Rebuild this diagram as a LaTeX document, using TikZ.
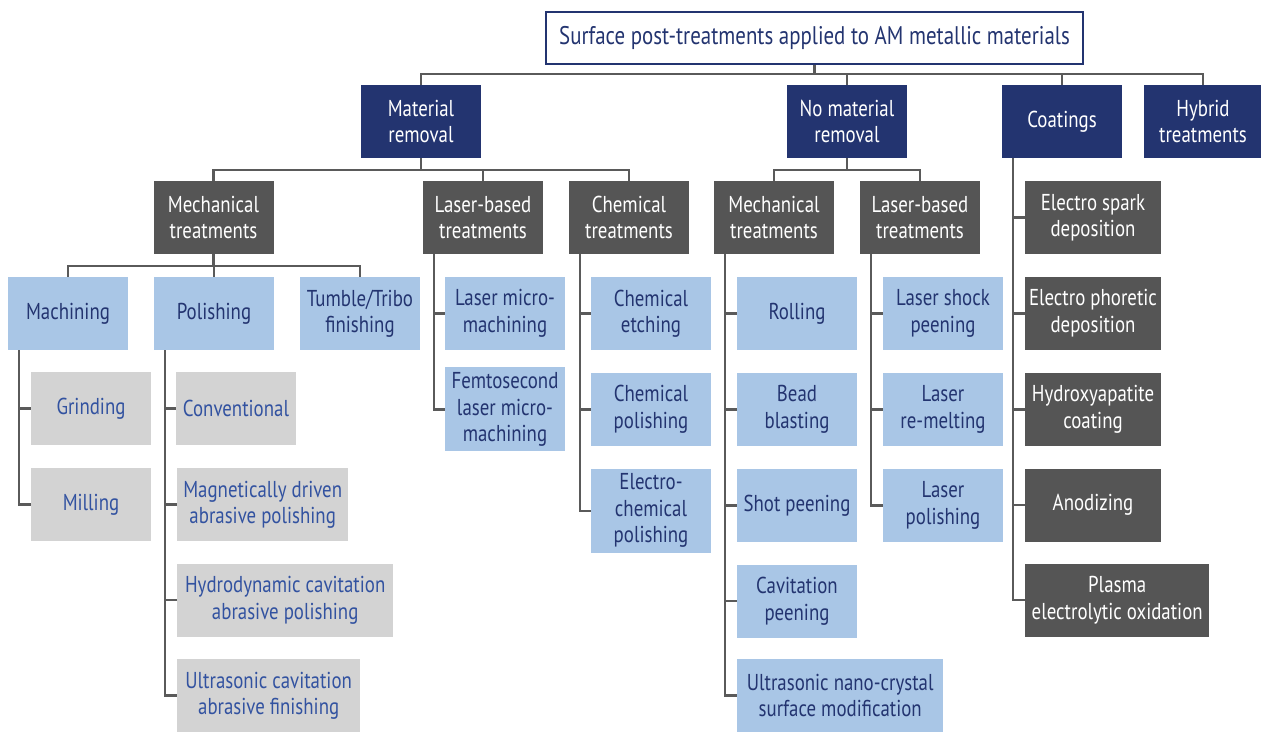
\documentclass[tikz,border=0pt]{standalone}
\usepackage{fontspec}
\setmainfont[FakeStretch=0.82]{PT Sans}
\usetikzlibrary{positioning}
\definecolor{navy}{RGB}{35,52,112}
\definecolor{darkbox}{RGB}{85,85,85}
\definecolor{lightblue}{RGB}{169,198,230}
\definecolor{lightgray}{RGB}{211,211,211}
\definecolor{midblue}{RGB}{50,82,160}
\definecolor{linkgray}{RGB}{90,90,90}

\begin{document}
\begin{tikzpicture}[
    x=1pt, y=-1pt,
    node distance=22.5pt,
    box/.style={
        rectangle, inner sep=0pt,
        minimum width=120pt,
        minimum height=73pt,
        align=center, font=\fontsize{23}{26.5}\selectfont
    },
    rootbox/.style={box, draw=navy, line width=2pt, fill=white, text=navy,
        minimum width=537pt, minimum height=52pt, font=\fontsize{25.5}{28}\selectfont},
    cat/.style={box, fill=navy, text=white},
    group/.style={box, fill=darkbox, text=white},
    method/.style={box, fill=lightblue, text=navy},
    variant/.style={box, fill=lightgray, text=midblue},
    link/.style={draw=linkgray, line width=2.5pt}
]
    \useasboundingbox (0,0) rectangle (1261,731);

    % top levels
    \node[rootbox] (root) at (814.5,38) {Surface post-treatments applied to AM metallic materials};
    \node[cat] (mr)   at (421,121.5)  {Material\\removal};
    \node[cat] (nmr)  at (847,121.5)  {No material\\removal};
    \node[cat] (coat) at (1062,121.5) {Coatings};
    \node[cat, minimum width=118pt] (hyb) at (1203,121.5) {Hybrid\\treatments};

    \node[group] (mech1) at (213.5,217.5) {Mechanical\\treatments};
    \node[group] (las1)  at (483,217.5)   {Laser-based\\treatments};
    \node[group] (chem)  at (629,217.5)   {Chemical\\treatments};
    \node[group] (mech2) at (774,217.5)   {Mechanical\\treatments};
    \node[group] (las2)  at (920,217.5)   {Laser-based\\treatments};

    % material removal, mechanical
    \node[method] (mach) at (68,313.5)  {Machining};
    \node[method] (pol)  at (214,313.5) {Polishing};
    \node[method] (tumb) at (360,313.5) {Tumble/Tribo\\finishing};
    \node[variant] (grind) at (91,408.5) {Grinding};
    \node[variant, below=of grind] (mill) {Milling};
    \node[variant] (conv) at (236,408.5) {Conventional};
    \node[variant, anchor=north west, minimum width=171pt] (magn) at (177,468) {Magnetically driven\\abrasive polishing};
    \node[variant, anchor=north west, minimum width=216pt] (hydro) at (177,563.5) {Hydrodynamic cavitation\\abrasive polishing};
    \node[variant, anchor=north west, minimum width=183pt] (ultra1) at (177,659) {Ultrasonic cavitation\\abrasive finishing};

    % laser-based and chemical
    \node[method] (lmm) at (505,313.5) {Laser micro-\\machining};
    \node[method, minimum height=84pt, below=17pt of lmm] (femto) {Femtosecond\\laser micro-\\machining};
    \node[method] (etch) at (651,313.5) {Chemical\\etching};
    \node[method, below=of etch] (cpol) {Chemical\\polishing};
    \node[method, minimum height=84pt, below=of cpol] (ecp) {Electro-\\chemical\\polishing};

    % no material removal
    \node[method] (roll) at (797,313.5) {Rolling};
    \node[method, below=of roll] (bead) {Bead\\blasting};
    \node[method, below=of bead] (shot) {Shot peening};
    \node[method, below=of shot] (cav)  {Cavitation\\peening};
    \node[method, anchor=north west, minimum width=206pt] (ultra2) at (737,659) {Ultrasonic nano-crystal\\surface modification};
    \node[method] (lsp) at (943,313.5) {Laser shock\\peening};
    \node[method, below=of lsp] (lrm)  {Laser\\re-melting};
    \node[method, below=of lrm] (lpol) {Laser\\polishing};

    % coatings
    \node[group, minimum width=136pt] (espark) at (1093,217.5) {Electro spark\\deposition};
    \node[group, minimum width=136pt, below=of espark] (ephor)  {Electro phoretic\\deposition};
    \node[group, minimum width=136pt, below=of ephor]  (hydrox) {Hydroxyapatite\\coating};
    \node[group, minimum width=136pt, below=of hydrox] (anod)   {Anodizing};
    \node[group, anchor=north west, minimum width=184pt] (plasma) at (1025,563.5) {Plasma\\electrolytic oxidation};

    % tree links
    \draw[link] (root.south) -- ++(0,10);
    \draw[link] (mr.north) -- ++(0,-11) -| (hyb.north);
    \draw[link] (nmr.north) -- ++(0,-11);
    \draw[link] (coat.north) -- ++(0,-11);
    \draw[link] (mr.south) -- ++(0,12);
    \draw[link] (mech1.north) -- ++(0,-11) -| (chem.north);
    \draw[link] (las1.north) -- ++(0,-11);
    \draw[link] (nmr.south) -- ++(0,12);
    \draw[link] (mech2.north) -- ++(0,-11) -| (las2.north);
    \draw[link] (mech1.south) -- ++(0,12);
    \draw[link] (mach.north) -- ++(0,-11) -| (tumb.north);
    \draw[link] (pol.north) -- ++(0,-11);

    % side trunks
    \coordinate (machT) at ([xshift=11pt]mach.south west);
    \coordinate (polT)  at ([xshift=11pt]pol.south west);
    \coordinate (las1T) at ([xshift=11pt]las1.south west);
    \coordinate (chemT) at ([xshift=11pt]chem.south west);
    \coordinate (mechT) at ([xshift=11pt]mech2.south west);
    \coordinate (las2T) at ([xshift=11pt]las2.south west);
    \coordinate (coatT) at ([xshift=11pt]coat.south west);

    \draw[link] (machT) |- (mill.west);
    \draw[link] (polT) |- (ultra1.west);
    \draw[link] (las1T) |- (femto.west);
    \draw[link] (chemT) |- (ecp.west);
    \draw[link] (mechT) |- (ultra2.west);
    \draw[link] (las2T) |- (lpol.west);
    \draw[link] (coatT) |- (plasma.west);

    \draw[link] (grind.west) -- (grind.west -| machT);
    \foreach \n in {conv, magn, hydro}
        \draw[link] (\n.west) -- (\n.west -| polT);
    \draw[link] (lmm.west) -- (lmm.west -| las1T);
    \foreach \n in {etch, cpol}
        \draw[link] (\n.west) -- (\n.west -| chemT);
    \foreach \n in {roll, bead, shot, cav}
        \draw[link] (\n.west) -- (\n.west -| mechT);
    \foreach \n in {lsp, lrm}
        \draw[link] (\n.west) -- (\n.west -| las2T);
    \foreach \n in {espark, ephor, hydrox, anod}
        \draw[link] (\n.west) -- (\n.west -| coatT);
\end{tikzpicture}
\end{document}
